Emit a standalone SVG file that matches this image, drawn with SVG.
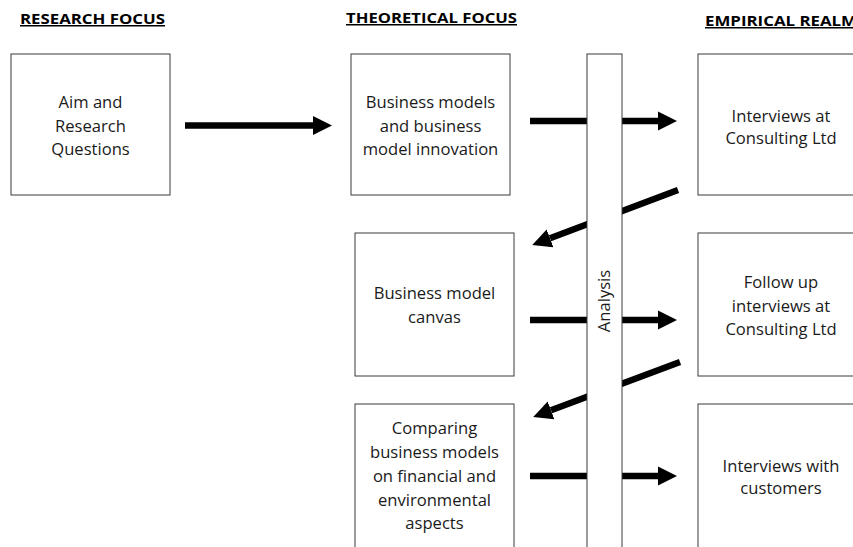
<svg xmlns="http://www.w3.org/2000/svg" width="853" height="547" viewBox="0 0 853 547">
  <style>
    .box { fill: #ffffff; stroke: #3a3a3a; stroke-width: 1; }
    .bar { fill: #ffffff; stroke: #3a3a3a; stroke-width: 1; }
    .lbl { font-family: "Open Sans", "Liberation Sans", sans-serif; font-size: 16.6px; fill: #1a1a1a; text-anchor: middle; }
    .head { font-family: "Open Sans", "Liberation Sans", sans-serif; font-size: 15px; font-weight: bold; fill: #000; text-decoration: underline; }
    .arrow { stroke: #000; stroke-width: 6.5; fill: none; marker-end: url(#tip); }
  </style>
  <defs>
    <marker id="tip" markerUnits="userSpaceOnUse" viewBox="0 -10 20 20" refX="0" refY="0" markerWidth="20" markerHeight="20" orient="auto">
      <path d="M0,-9.5 L19,0 L0,9.5 Z" fill="#000"/>
    </marker>
  </defs>
  <rect width="853" height="547" fill="#ffffff"/>

  <!-- column headings -->
  <g id="headings">
    <text class="head" x="20" y="24" textLength="145" lengthAdjust="spacingAndGlyphs">RESEARCH FOCUS</text>
    <text class="head" x="346" y="23" textLength="171" lengthAdjust="spacingAndGlyphs">THEORETICAL FOCUS</text>
    <text class="head" x="705" y="26" textLength="152" lengthAdjust="spacingAndGlyphs">EMPIRICAL REALM</text>
  </g>

  <!-- connectors (the analysis bar is drawn over their middle parts) -->
  <g id="connectors">
    <line class="arrow" x1="185" y1="125.5" x2="313" y2="125.5"/>
    <line class="arrow" x1="530" y1="121" x2="658" y2="121"/>
    <line class="arrow" x1="678" y1="190" x2="550" y2="238.3"/>
    <line class="arrow" x1="530" y1="320" x2="658" y2="320"/>
    <line class="arrow" x1="680" y1="362" x2="551" y2="410.3"/>
    <line class="arrow" x1="530" y1="476" x2="658" y2="476"/>
  </g>

  <g id="analysis">
    <rect class="bar" x="587" y="54" width="35" height="500"/>
    <text class="lbl" transform="translate(610,301) rotate(-90)">Analysis</text>
  </g>

  <g id="aim">
    <rect class="box" x="11" y="54" width="159" height="141"/>
    <text class="lbl" x="90.5" y="108">Aim and</text>
    <text class="lbl" x="90.5" y="131.5">Research</text>
    <text class="lbl" x="90.5" y="155">Questions</text>
  </g>

  <g id="bm-innovation">
    <rect class="box" x="351" y="54" width="159" height="141"/>
    <text class="lbl" x="430.5" y="108">Business models</text>
    <text class="lbl" x="430.5" y="131.5">and business</text>
    <text class="lbl" x="430.5" y="155">model innovation</text>
  </g>

  <g id="bm-canvas">
    <rect class="box" x="355" y="233" width="159" height="143"/>
    <text class="lbl" x="434.5" y="299">Business model</text>
    <text class="lbl" x="434.5" y="323">canvas</text>
  </g>

  <g id="comparing">
    <rect class="box" x="355" y="404" width="159" height="160"/>
    <text class="lbl" x="434.5" y="434">Comparing</text>
    <text class="lbl" x="434.5" y="458">business models</text>
    <text class="lbl" x="434.5" y="482">on financial and</text>
    <text class="lbl" x="434.5" y="506">environmental</text>
    <text class="lbl" x="434.5" y="529">aspects</text>
  </g>

  <g id="interviews">
    <rect class="box" x="698" y="54" width="166" height="141"/>
    <text class="lbl" x="781" y="122">Interviews at</text>
    <text class="lbl" x="781" y="144">Consulting Ltd</text>
  </g>

  <g id="follow-up">
    <rect class="box" x="698" y="233" width="166" height="143"/>
    <text class="lbl" x="781" y="288">Follow up</text>
    <text class="lbl" x="781" y="312">interviews at</text>
    <text class="lbl" x="781" y="335">Consulting Ltd</text>
  </g>

  <g id="customers">
    <rect class="box" x="698" y="404" width="166" height="160"/>
    <text class="lbl" x="781" y="472">Interviews with</text>
    <text class="lbl" x="781" y="494">customers</text>
  </g>
</svg>
